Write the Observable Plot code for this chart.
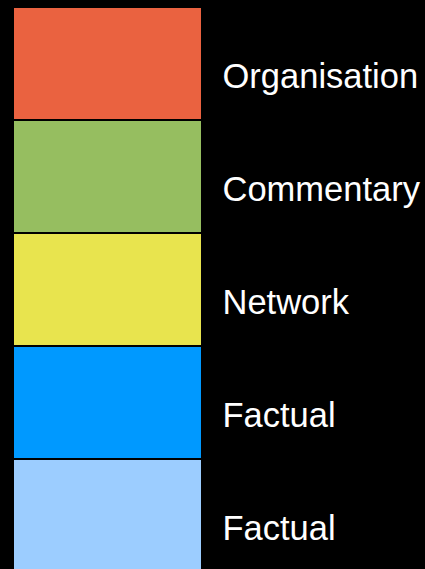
<!DOCTYPE html>
<html><head><meta charset="utf-8">
<style>html,body{margin:0;padding:0;background:#000;overflow:hidden}</style>
<script src="https://cdn.jsdelivr.net/npm/d3@7"></script>
<script src="https://cdn.jsdelivr.net/npm/@observablehq/plot@0.6"></script>
</head><body><div id="chart"></div>
<script>
const labels = ["Organisation", "Commentary", "Network", "Factual", "Factual"];
const colors = ["#EA6240", "#96BE60", "#E8E44E", "#0099FF", "#9CCDFF"];
const shares = [1, 1, 1, 1, 1];
const data = labels.map((label, i) => ({key: i, label, value: shares[i]}));
const chart = Plot.plot({
  width: 425,
  height: 569,
  margin: 0,
  style: {background: "#000", color: "#fff", fontFamily: "'Liberation Sans', Arial, sans-serif", overflow: "hidden"},
  x: {domain: [0, 1], range: [14, 201], axis: null},
  y: {type: "band", domain: data.map(d => d.key), range: [6, 573.5], paddingInner: 0.0176, paddingOuter: 0, axis: null},
  color: {type: "ordinal", domain: data.map(d => d.key), range: colors},
  marks: [
    Plot.barX(data, {x: "value", y: "key", fill: "key"}),
    Plot.text(data, {x: "value", y: "key", text: "label", dx: 21, dy: 13, textAnchor: "start", fill: "#fff", fontSize: 34.5})
  ]
});
document.getElementById("chart").appendChild(chart);
</script>
</body></html>
